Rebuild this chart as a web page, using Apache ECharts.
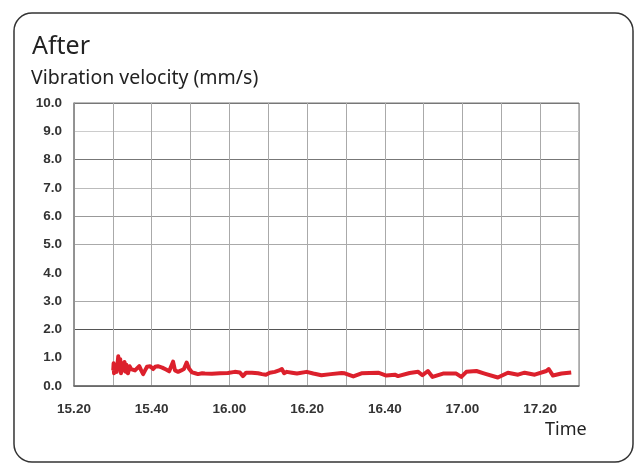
<!DOCTYPE html>
<html>
<head>
<meta charset="utf-8">
<title>After</title>
<script src="https://cdn.jsdelivr.net/npm/echarts@6/dist/echarts.min.js"></script>
<style>
  html, body { margin: 0; padding: 0; background: #fff; }
  #main { width: 643px; height: 465px; }
</style>
</head>
<body>
<div id="main"></div>
<script>
// time in minutes after midnight (15:20 = 920)
var times = [930.1, 930.2, 930.3, 930.6, 931.0, 931.4, 931.6, 931.9, 932.1, 932.4,
  932.8, 933.0, 933.3, 933.5, 933.9, 934.3, 934.7, 935.2, 935.7, 936.2,
  936.8, 937.3, 937.8, 938.3, 938.8, 939.6, 940.4, 940.9, 941.6, 942.7,
  943.7, 944.5, 945.0, 945.5, 946.0, 946.8, 947.6, 948.3, 949.0, 949.6,
  950.4, 951.2, 951.9, 953.0, 953.7, 955.5, 957.6, 959.6, 961.4, 962.7,
  963.5, 964.3, 965.8, 967.4, 968.4, 969.4, 970.4, 971.7, 972.8, 973.5,
  974.1, 974.8, 976.1, 977.4, 979.9, 981.6, 983.7, 986.1, 988.9, 989.7,
  991.9, 994.0, 996.1, 998.3, 1000.4, 1002.6, 1003.4, 1006.4, 1008.6, 1009.7,
  1011.1, 1012.3, 1015.0, 1018.4, 1019.7, 1021.0, 1023.6, 1025.7, 1029.1, 1031.7,
  1034.3, 1036.0, 1038.6, 1041.6, 1042.2, 1043.3, 1045.5, 1048.0];
// vibration velocity (mm/s)
var velocity = [0.55, 0.8, 0.45, 0.75, 0.5, 1.05, 0.6, 0.95, 0.45, 0.8,
  0.55, 0.85, 0.5, 0.75, 0.45, 0.7, 0.6, 0.65, 0.55, 0.6,
  0.7, 0.55, 0.42, 0.55, 0.68, 0.7, 0.6, 0.68, 0.7, 0.65,
  0.58, 0.52, 0.55, 0.86, 0.55, 0.5, 0.55, 0.6, 0.83, 0.62,
  0.48, 0.45, 0.42, 0.45, 0.44, 0.43, 0.45, 0.46, 0.5, 0.48,
  0.35, 0.47, 0.47, 0.45, 0.42, 0.4, 0.47, 0.5, 0.55, 0.6,
  0.45, 0.5, 0.47, 0.44, 0.5, 0.44, 0.38, 0.42, 0.46, 0.45,
  0.34, 0.45, 0.46, 0.47, 0.37, 0.4, 0.35, 0.46, 0.5, 0.38,
  0.53, 0.32, 0.44, 0.44, 0.32, 0.5, 0.53, 0.44, 0.3, 0.47,
  0.4, 0.47, 0.4, 0.53, 0.6, 0.37, 0.44, 0.48];
var xLabels = ['15.20', '15.40', '16.00', '16.20', '16.40', '17.00', '17.20'];
// horizontal grid line colours, from 0.0 up to 10.0
var yGridColors = ['#777', 'rgba(0,0,0,0)', '#555', '#aaa', 'rgba(0,0,0,0)', '#aaa', '#999', '#bbb', '#777', '#ccc', '#777'];

var myChart = echarts.init(document.getElementById('main'));
var data = times.map(function (t, i) { return [t, velocity[i]]; });

var option = {
    animation: false,
    textStyle: { fontFamily: 'Liberation Sans' },
    graphic: [
        { type: 'rect', shape: { x: 14, y: 13, width: 619, height: 449, r: 18 },
          style: { fill: 'none', stroke: '#333', lineWidth: 1.5 } },
        { type: 'text', left: 32, top: 34,
          style: { text: 'After', font: '25px "Noto Sans"', fill: '#222' } },
        { type: 'text', left: 31, top: 68,
          style: { text: 'Vibration velocity (mm/s)', font: '19.5px "Noto Sans"', fill: '#222' } },
        { type: 'text', left: 545, top: 421,
          style: { text: 'Time', font: '18px "Noto Sans"', fill: '#222' } }
    ],
    grid: { left: 74, right: 64, top: 103, bottom: 79, show: true, borderColor: '#777', borderWidth: 1 },
    xAxis: {
        type: 'value', min: 920, max: 1050, interval: 10,
        axisLine: { show: true, lineStyle: { color: '#666', width: 1.5 } },
        axisTick: { show: false },
        axisLabel: {
            margin: 16, color: '#333', fontSize: 13.5, fontWeight: 'bold',
            formatter: function (v) {
                var k = (v - 920) / 20;
                return Number.isInteger(k) && k < xLabels.length ? xLabels[k] : '';
            }
        },
        splitLine: { show: true, lineStyle: { color: '#aaa', width: 1 } }
    },
    yAxis: {
        type: 'value', min: 0, max: 10, interval: 1,
        axisLine: { show: true, lineStyle: { color: '#888', width: 1.5 } },
        axisTick: { show: false },
        axisLabel: {
            margin: 12, color: '#333', fontSize: 13.5, fontWeight: 'bold',
            formatter: function (v) { return v.toFixed(1); }
        },
        splitLine: { show: true, lineStyle: { color: yGridColors, width: 1 } }
    },
    series: [{
        type: 'line',
        data: data,
        showSymbol: false,
        lineStyle: { color: '#dc202c', width: 4, join: 'round' }
    }]
};
myChart.setOption(option);
</script>
</body>
</html>
